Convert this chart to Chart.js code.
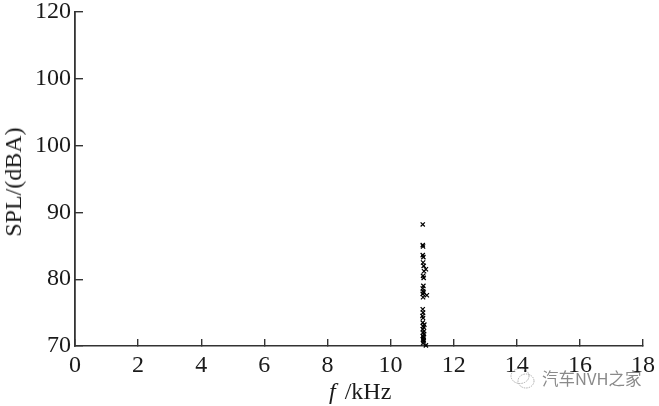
<!DOCTYPE html>
<html>
<head>
<meta charset="utf-8">
<script src="https://cdn.jsdelivr.net/npm/chart.js@4"></script>
<style>
  html, body { margin: 0; padding: 0; background: #fff; overflow: hidden; }
  #wrap { position: relative; width: 659px; height: 406px; font-family: "Liberation Serif", serif; }
  #xlabel { position: absolute; left: 329px; top: 378px; font-size: 24px; line-height: 26px; color: #1a1a1a; white-space: pre; word-spacing: 3px; }
  #ylabel { position: absolute; left: 13px; top: 182px; transform: translate(-50%, -50%) rotate(-90deg); font-size: 24px; line-height: 26px; color: #1a1a1a; white-space: pre; }
  #mark { position: absolute; left: 542px; top: 368px; font-family: "Noto Sans CJK SC", sans-serif; font-size: 16.5px; line-height: 20px; color: #8a8a8a; white-space: pre; }
  #icon { position: absolute; left: 509px; top: 367px; }
</style>
</head>
<body>
<div id="wrap">
  <canvas id="grafico" width="659" height="406"></canvas>
  <div id="xlabel"><i>f</i> /kHz</div>
  <div id="ylabel">SPL/(dBA)</div>
  <svg id="icon" width="30" height="24" viewBox="0 0 30 24" fill="none" stroke="#9a9a9a" stroke-width="0.8" stroke-dasharray="1.5 1">
    <ellipse cx="11" cy="9" rx="9" ry="7.5"/>
    <ellipse cx="17" cy="14" rx="8" ry="7"/>
  </svg>
  <div id="mark">汽车NVH之家</div>
</div>
<script>
const xTicks = [0, 2, 4, 6, 8, 10, 12, 14, 16, 18];
const yTickLabels = ['70', '80', '90', '100', '100', '120'];
const freqs = [11.02, 11.02, 11.03, 11.02, 11.04, 11.03, 11.05, 11.12, 11.06, 11.03, 11.05, 11.04, 11.02, 11.03, 11.05, 11.02, 11.15, 11.03, 11.02, 11.03, 11.01, 11.03, 11.02, 11.07, 11.03, 11.05, 11.02, 11.03, 11.06, 11.02, 11.04, 11.03, 11.05, 11.03, 11.12, 11.06, 11.04, 11.05];
const spl = [88.2, 85.1, 84.9, 83.6, 83.3, 82.5, 82.0, 81.5, 81.2, 80.5, 80.2, 79.0, 78.6, 78.2, 78.0, 77.8, 77.6, 77.3, 75.5, 75.0, 74.5, 74.2, 73.5, 73.2, 73.0, 72.8, 72.5, 72.0, 71.8, 71.5, 71.2, 71.0, 70.7, 70.4, 70.1, 72.2, 71.4, 70.9];

const puntos = freqs.map((f, i) => ({ x: f, y: spl[i] }));
const fuente = { family: '"Liberation Serif", serif', size: 24 };
const tinta = '#1a1a1a';
const eje = '#333333';

new Chart(document.getElementById('grafico'), {
  type: 'scatter',
  data: {
    datasets: [{
      data: puntos,
      pointStyle: 'crossRot',
      pointRadius: 3,
      pointBorderWidth: 1.2,
      pointBorderColor: '#000',
      clip: false
    }]
  },
  options: {
    responsive: false,
    animation: false,
    layout: { padding: { left: 0, right: 16, top: 12, bottom: 0 } },
    plugins: { legend: { display: false }, tooltip: { enabled: false } },
    scales: {
      x: {
        min: 0,
        max: 18,
        // the end labels may hang past the plot, no space is reserved for them
        afterFit: (scale) => { scale.height = 60; scale.paddingLeft = 0; scale.paddingRight = 0; },
        afterBuildTicks: (scale) => { scale.ticks = xTicks.map(v => ({ value: v })); },
        border: { color: eje, width: 1.6 },
        grid: { drawOnChartArea: false, color: eje, lineWidth: 1.4, tickLength: -7 },
        ticks: { padding: 12, maxRotation: 0, autoSkip: false, color: tinta, font: fuente }
      },
      y: {
        min: 70,
        max: 120,
        afterFit: (scale) => { scale.width = 75; scale.paddingTop = 0; scale.paddingBottom = 0; },
        border: { color: eje, width: 1.8 },
        grid: { drawOnChartArea: false, color: eje, lineWidth: 1.4, tickLength: -8 },
        ticks: {
          stepSize: 10,
          padding: 12,
          autoSkip: false,
          color: tinta,
          font: fuente,
          callback: (value, i) => yTickLabels[i]
        }
      }
    }
  }
});
</script>
</body>
</html>
